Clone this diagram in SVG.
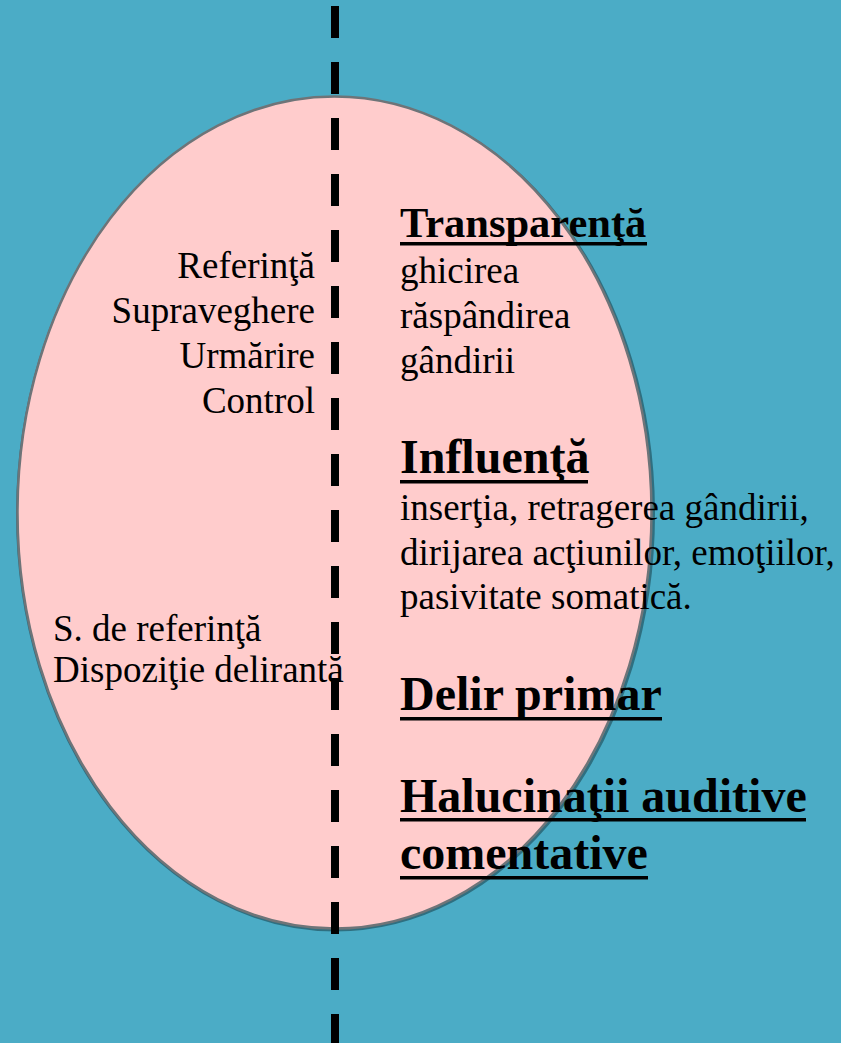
<svg xmlns="http://www.w3.org/2000/svg" width="841" height="1043" viewBox="0 0 841 1043">
<style>
.t{font-family:"Liberation Serif","Times New Roman",serif;font-size:37px;fill:#000}
.h{font-family:"Liberation Serif","Times New Roman",serif;font-weight:bold;fill:#000}
.r{text-anchor:end}
.u{fill:#000}
</style>
<rect width="841" height="1043" fill="#4BACC6"/>
<g id="ellipse">
<ellipse cx="335.5" cy="514" rx="318" ry="416" fill="none" stroke="#2f6f80" stroke-width="3"/>
<ellipse cx="334.5" cy="512.5" rx="317" ry="416" fill="#FFCCCC" stroke="#6e7478" stroke-width="2.5"/>
</g>
<g id="connectors">
<line x1="335" y1="6" x2="335" y2="1043" stroke="#000" stroke-width="8" stroke-dasharray="32 24"/>
</g>
<g id="left-top">
<text class="t r" x="315" y="278">Referinţă</text>
<text class="t r" x="315" y="323">Supraveghere</text>
<text class="t r" x="315" y="368">Urmărire</text>
<text class="t r" x="315" y="413">Control</text>
</g>
<g id="left-bottom">
<text class="t" x="53" y="641">S. de referinţă</text>
<text class="t" x="53" y="682">Dispoziţie delirantă</text>
</g>
<g id="transparenta">
<text class="h" x="400" y="237" font-size="42.5">Transparenţă</text>
<rect class="u" x="400" y="242" width="247" height="3.5"/>
<text class="t" x="400" y="283">ghicirea</text>
<text class="t" x="400" y="328">răspândirea</text>
<text class="t" x="400" y="373">gândirii</text>
</g>
<g id="influenta">
<text class="h" x="400" y="473" font-size="48">Influenţă</text>
<rect class="u" x="400" y="480" width="188" height="3.5"/>
<text class="t" x="400" y="520">inserţia, retragerea gândirii,</text>
<text class="t" x="400" y="565">dirijarea acţiunilor, emoţiilor,</text>
<text class="t" x="400" y="609">pasivitate somatică.</text>
</g>
<g id="delir">
<text class="h" x="400" y="710" font-size="48">Delir primar</text>
<rect class="u" x="400" y="717" width="262" height="3.5"/>
</g>
<g id="halucinatii">
<text class="h" x="400" y="812" font-size="48">Halucinaţii auditive</text>
<text class="h" x="400" y="869" font-size="48">comentative</text>
<rect class="u" x="400" y="818" width="406" height="3.5"/>
<rect class="u" x="400" y="876" width="248" height="3.5"/>
</g>
</svg>
